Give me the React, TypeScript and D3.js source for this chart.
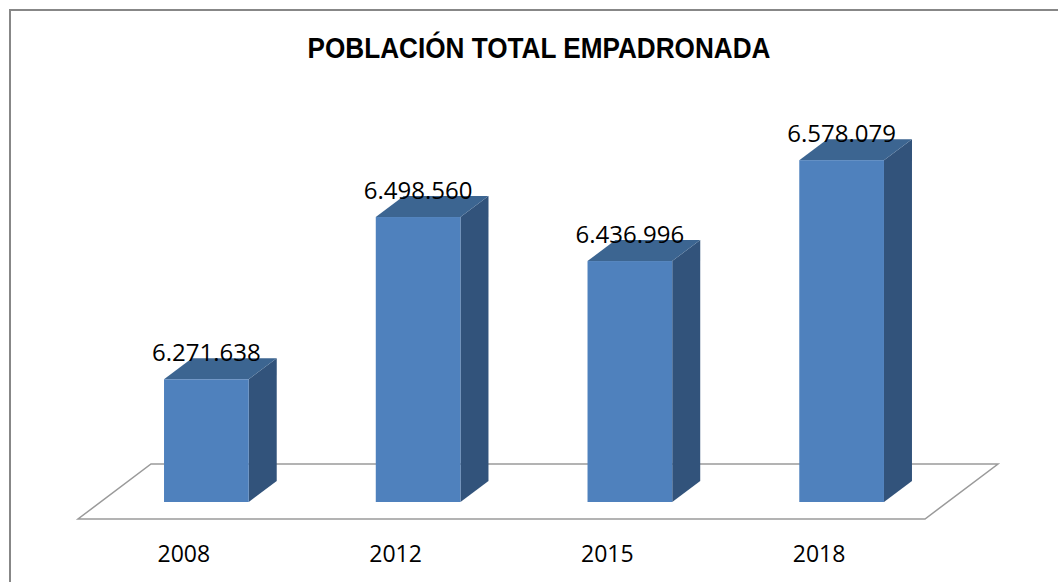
import { useEffect, useRef } from 'react';
import * as d3 from 'd3';

// chart data
const years: string[] = ['2008', '2012', '2015', '2018'];
const population: number[] = [6271638, 6498560, 6436996, 6578079];
const titleText = 'POBLACIÓN TOTAL EMPADRONADA';

const fmt = (v: number) => d3.format(',')(v).replace(/,/g, '.');

export default function App() {
	const svgRef = useRef<SVGSVGElement | null>(null);

	useEffect(() => {
		const svg = d3.select(svgRef.current);
		svg.selectAll('*').remove();

		const width = 1058;
		const height = 582;

		// floor (front edge + depth)
		const floorLeft = 78;
		const floorRight = 925;
		const floorFrontY = 519;
		const floorDx = 73;
		const floorDy = 55;
		// bar depth
		const barDx = 28;
		const barDy = 21;
		const shiftX = (floorDx - barDx) / 2;
		const shiftY = (floorDy - barDy) / 2;
		const baseY = floorFrontY - shiftY;

		const x = d3.scaleBand<string>().domain(years).range([floorLeft, floorRight]).paddingInner(0.6).paddingOuter(0.3);
		const xLabel = d3.scaleBand<string>().domain(years).range([floorLeft, floorRight]);
		const y = d3.scaleLinear().domain([6100000, 6700000]).range([baseY, baseY - 429]);

		svg.attr('viewBox', `0 0 ${width} ${height}`);

		// outer frame
		svg.append('rect')
			.attr('x', 10)
			.attr('y', 10)
			.attr('width', width + 20)
			.attr('height', height + 20)
			.attr('fill', '#fff')
			.attr('stroke', '#878787')
			.attr('stroke-width', 2);

		// title (narrow bold face, squeezed to the reference width)
		svg.append('text')
			.attr('x', 539)
			.attr('y', 58)
			.attr('text-anchor', 'middle')
			.attr('font-family', '"Liberation Sans Narrow", "Liberation Sans", Arial, sans-serif')
			.attr('font-weight', 'bold')
			.attr('font-size', 29)
			.attr('textLength', 463)
			.attr('lengthAdjust', 'spacingAndGlyphs')
			.attr('fill', '#000')
			.text(titleText);

		// floor
		const floorPts: [number, number][] = [
			[floorLeft, floorFrontY],
			[floorRight, floorFrontY],
			[floorRight + floorDx, floorFrontY - floorDy],
			[floorLeft + floorDx, floorFrontY - floorDy]
		];
		svg.append('path')
			.attr('d', d3.line()(floorPts) + 'Z')
			.attr('fill', 'none')
			.attr('stroke', '#9a9a9a')
			.attr('stroke-width', 1.5);

		const data = years.map((yr, i) => ({ yr, v: population[i] }));

		const bars = svg.selectAll('.bar').data(data).join('g').attr('class', 'bar');

		const bx = (d: { yr: string }) => (x(d.yr) ?? 0) + shiftX;
		const bw = x.bandwidth();

		// right side face
		bars.append('path')
			.attr('d', (d) => {
				const x0 = bx(d) + bw;
				const top = y(d.v);
				return d3.line()([
					[x0, baseY],
					[x0, top],
					[x0 + barDx, top - barDy],
					[x0 + barDx, baseY - barDy]
				]) + 'Z';
			})
			.attr('fill', '#32537b');

		// top face
		bars.append('path')
			.attr('d', (d) => {
				const x0 = bx(d);
				const top = y(d.v);
				return d3.line()([
					[x0, top],
					[x0 + bw, top],
					[x0 + bw + barDx, top - barDy],
					[x0 + barDx, top - barDy]
				]) + 'Z';
			})
			.attr('fill', '#3c6591');

		// front face
		bars.append('rect')
			.attr('x', (d) => bx(d))
			.attr('y', (d) => y(d.v))
			.attr('width', bw)
			.attr('height', (d) => baseY - y(d.v))
			.attr('fill', '#4f81bd');

		// value labels
		bars.append('text')
			.attr('x', (d) => bx(d) + bw / 2)
			.attr('y', (d) => y(d.v) - 18)
			.attr('text-anchor', 'middle')
			.attr('font-family', '"Open Sans", sans-serif')
			.attr('font-size', 24)
			.attr('fill', '#000')
			.text((d) => fmt(d.v));

		// category labels
		svg.append('g')
			.selectAll('text')
			.data(years)
			.join('text')
			.attr('x', (d) => (xLabel(d) ?? 0) + xLabel.bandwidth() / 2)
			.attr('y', 562)
			.attr('text-anchor', 'middle')
			.attr('font-family', '"Open Sans", sans-serif')
			.attr('font-size', 23)
			.attr('fill', '#000')
			.text((d) => d);
	}, []);

	return (
		<div style={{ position: 'fixed', left: 0, top: 0, width: 1058, height: 582, background: '#fff' }}>
			<svg ref={svgRef} width={1058} height={582} style={{ display: 'block' }} />
		</div>
	);
}
